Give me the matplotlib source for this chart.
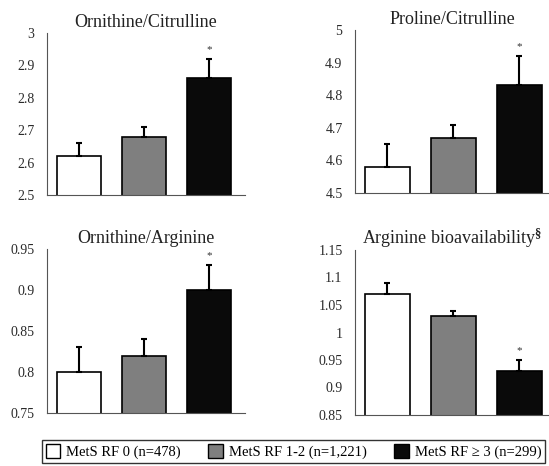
import matplotlib.pyplot as plt
import numpy as np

plt.rcParams['font.family'] = ['Liberation Serif', 'DejaVu Serif']
plt.rcParams['mathtext.fontset'] = 'custom'
plt.rcParams['mathtext.rm'] = 'Liberation Serif'
plt.rcParams['mathtext.it'] = 'Liberation Serif:italic'
plt.rcParams['mathtext.bf'] = 'Liberation Serif:bold'

groups = ['MetS RF 0 (n=478)', 'MetS RF 1-2 (n=1,221)', 'MetS RF \u2265 3 (n=299)']
colors = ['white', '#7f7f7f', '#0a0a0a']

titles = ['Ornithine/Citrulline', 'Proline/Citrulline',
          'Ornithine/Arginine', r'Arginine bioavailability$^{\mathbf{\S}}$']
means = [[2.62, 2.68, 2.86],
         [4.58, 4.67, 4.83],
         [0.80, 0.82, 0.90],
         [1.07, 1.03, 0.93]]
errs = [[0.04, 0.03, 0.06],
        [0.07, 0.04, 0.09],
        [0.03, 0.02, 0.03],
        [0.02, 0.01, 0.02]]
ylims = [(2.5, 3.0), (4.5, 5.0), (0.75, 0.95), (0.85, 1.15)]
yticks = [[2.5, 2.6, 2.7, 2.8, 2.9, 3.0],
          [4.5, 4.6, 4.7, 4.8, 4.9, 5.0],
          [0.75, 0.8, 0.85, 0.9, 0.95],
          [0.85, 0.9, 0.95, 1.0, 1.05, 1.1, 1.15]]
ticklabels = [['2.5', '2.6', '2.7', '2.8', '2.9', '3'],
              ['4.5', '4.6', '4.7', '4.8', '4.9', '5'],
              ['0.75', '0.8', '0.85', '0.9', '0.95'],
              ['0.85', '0.9', '0.95', '1', '1.05', '1.1', '1.15']]
signif = [2, 2, 2, 2]

W, H = 549, 466
# axes boxes in pixels: left, right, top, bottom
boxes = [(47, 245, 33, 195), (355, 549, 30, 193),
         (47, 245, 249, 413), (355, 549, 250, 415)]
xlims = [(-0.49, 2.55), (-0.49, 2.45), (-0.49, 2.55), (-0.49, 2.45)]

fig = plt.figure(figsize=(W / 100, H / 100), dpi=100)

x = np.arange(3)
for i in range(4):
    l, r, t, b = boxes[i]
    ax = fig.add_axes([l / W, (H - b) / H, (r - l) / W, (b - t) / H])
    ax.bar(x, means[i], width=0.68, bottom=0, color=colors, edgecolor='black',
           linewidth=1.2, zorder=2)
    ax.errorbar(x, means[i], yerr=[[0, 0, 0], errs[i]], fmt='none',
                ecolor='black', elinewidth=1.5, capsize=2.2, capthick=1.5, zorder=3)
    k = signif[i]
    ax.annotate('*', (x[k], means[i][k] + errs[i][k]), xytext=(0, 3.5),
                textcoords='offset points', ha='center', va='bottom',
                fontsize=8, color='#333333')
    ax.set_ylim(*ylims[i])
    ax.set_xlim(*xlims[i])
    ax.set_yticks(yticks[i])
    ax.set_yticklabels(ticklabels[i])
    ax.set_xticks([])
    ax.tick_params(axis='y', length=0, pad=9, labelsize=10, labelcolor='#2a2a2a')
    ax.spines['top'].set_visible(False)
    ax.spines['right'].set_visible(False)
    ax.spines['left'].set_color('#555555')
    ax.spines['bottom'].set_color('#555555')
    ax.set_title(titles[i], fontsize=13, pad=4, color='#222222')

handles = [plt.Rectangle((0, 0), 1, 1, facecolor=c, edgecolor='black', linewidth=1)
           for c in colors]
leg = fig.legend(handles, groups, loc='center', ncol=3,
                 bbox_to_anchor=(293.5 / W, (H - 451.5) / H), fontsize=10.5,
                 frameon=True, fancybox=False, edgecolor='black',
                 handlelength=1.0, handleheight=1.1, handletextpad=0.4,
                 columnspacing=1.9, borderpad=0.25)
leg.get_frame().set_linewidth(1)

fig.savefig('out.png', dpi=100)
